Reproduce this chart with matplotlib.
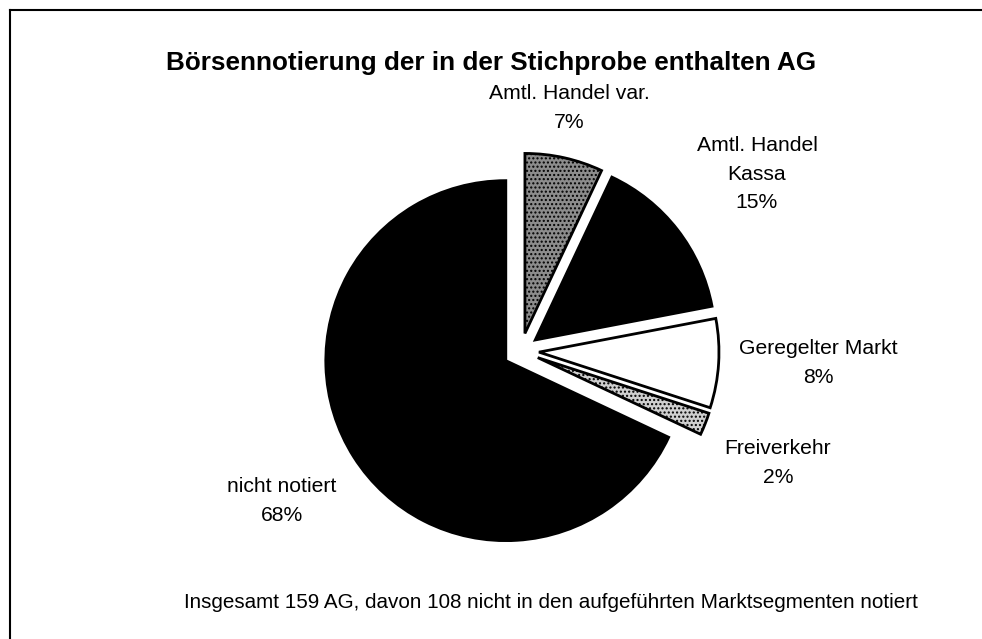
import matplotlib.pyplot as plt
from matplotlib.lines import Line2D

plt.rcParams['font.family'] = ['Liberation Sans', 'DejaVu Sans']

# data, clockwise from 12 o'clock
segments = ["Amtl. Handel var.", "Amtl. Handel\nKassa", "Geregelter Markt", "Freiverkehr", "nicht notiert"]
shares = [7, 15, 8, 2, 68]
colors = ["#8c8c8c", "#000000", "#ffffff", "#cfcfcf", "#000000"]
hatches = ["....", None, None, "....", None]

title = "Börsennotierung der in der Stichprobe enthalten AG"
note = "Insgesamt 159 AG, davon 108 nicht in den aufgeführten Marktsegmenten notiert"

W, H = 982, 639
fig = plt.figure(figsize=(W / 100, H / 100), dpi=100)
ax = fig.add_axes([0, 0, 1, 1])

# pie drawn in pixel-sized data units, every slice pulled out a little
wedges, _ = ax.pie(shares, colors=colors, startangle=90, counterclock=False,
                   explode=[18] * len(shares), center=(521, H - 351), radius=180,
                   wedgeprops=dict(edgecolor="black", linewidth=2))
for w, h in zip(wedges, hatches):
    if h:
        w.set_hatch(h)

ax.set_xlim(0, W)
ax.set_ylim(0, H)
ax.set_aspect("equal")
ax.axis("off")

# label positions (pixel coords of the label centre)
label_pos = [(569, 108), (757, 174), (818, 363), (778, 463), (282, 501)]
for name, val, (x, y) in zip(segments, shares, label_pos):
    ax.text(x, H - y, f"{name}\n{val}%", ha="center", va="center",
            fontsize=15.2, linespacing=1.62)

ax.text(491, H - 63, title, ha="center", va="center", fontsize=18.8, fontweight="bold")
ax.text(551, H - 602, note, ha="center", va="center", fontsize=14.9)

# frame: only left and top edges are visible
fig.add_artist(Line2D([10 / W, 10 / W], [0, 1 - 10 / H], transform=fig.transFigure, color="black", lw=1.5))
fig.add_artist(Line2D([10 / W, 1], [1 - 10 / H, 1 - 10 / H], transform=fig.transFigure, color="black", lw=1.5))

fig.savefig("out.png", dpi=100)
